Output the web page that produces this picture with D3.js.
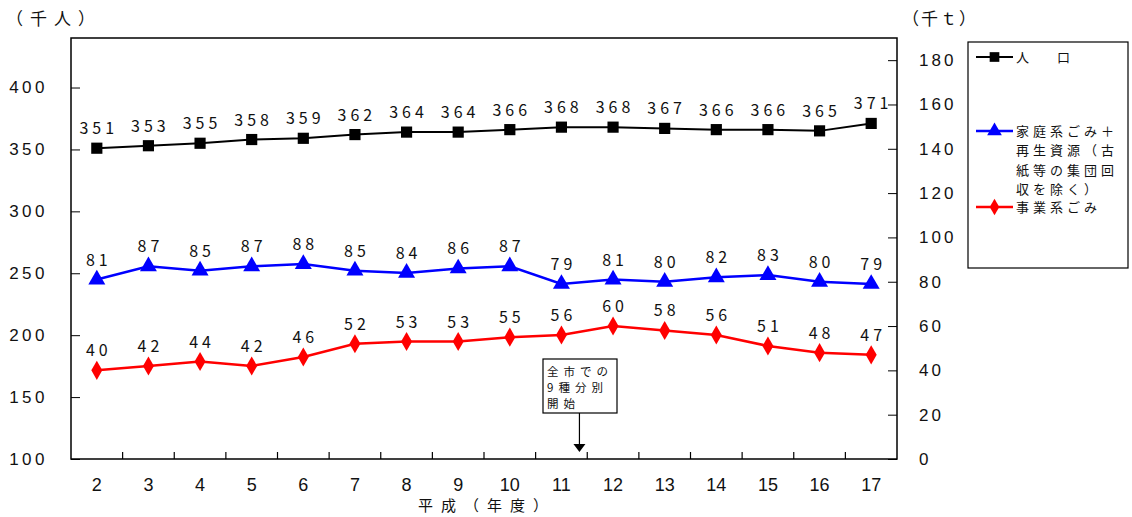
<!DOCTYPE html>
<html><head><meta charset="utf-8">
<script src="https://cdn.jsdelivr.net/npm/d3@7"></script>
<style>
body{margin:0;background:#fff;}
svg text{font-family:"Noto Sans CJK JP","Liberation Sans",sans-serif;fill:#111;}
</style></head>
<body><svg id="c" width="1132" height="517"></svg>
<script>
const years = ["2","3","4","5","6","7","8","9","10","11","12","13","14","15","16","17"];
const population = [351,353,355,358,359,362,364,364,366,368,368,367,366,366,365,371];
const household = [81,87,85,87,88,85,84,86,87,79,81,80,82,83,80,79];
const business = [40,42,44,42,46,52,53,53,55,56,60,58,56,51,48,47];
const leftTicks = [100,150,200,250,300,350,400];
const rightTicks = [0,20,40,60,80,100,120,140,160,180];
const legendLabels = [["人"],["家庭系ごみ＋","再生資源（古","紙等の集団回","収を除く）"],["事業系ごみ"]];
const noteLines = ["全市での","9種分別","開始"];

const svg = d3.select("#c");
const L=71, R=897, T=38, B=459;
const x = d3.scaleBand().domain(years).range([L,R]);
const yL = d3.scaleLinear().domain([100,440]).range([B,T]);
const yR = d3.scaleLinear().domain([0,190]).range([B,T]);
const cx = d => x(d)+x.bandwidth()/2;

// frame
svg.append("rect").attr("x",L).attr("y",T).attr("width",R-L).attr("height",B-T)
  .attr("fill","none").attr("stroke","#000").attr("stroke-width",1.5);

// left axis
const gl = svg.append("g").attr("transform",`translate(${L},0)`)
  .call(d3.axisLeft(yL).tickValues(leftTicks).tickSizeInner(-9).tickSizeOuter(0).tickPadding(23));
gl.select(".domain").remove();
gl.selectAll("line").attr("stroke","#000");
gl.selectAll("text").attr("font-size",17).attr("letter-spacing","3.5px").attr("fill","#111")
  .style("font-family","'Liberation Sans',sans-serif");

// right axis
const gr = svg.append("g").attr("transform",`translate(${R},0)`)
  .call(d3.axisRight(yR).tickValues(rightTicks).tickSizeInner(-9).tickSizeOuter(0).tickPadding(22));
gr.select(".domain").remove();
gr.selectAll("line").attr("stroke","#000");
gr.selectAll("text").attr("font-size",17).attr("letter-spacing","3px").attr("fill","#111")
  .style("font-family","'Liberation Sans',sans-serif");

// x axis ticks at band boundaries
svg.append("g").selectAll("line").data(years.slice(1)).join("line")
  .attr("x1",d=>x(d)).attr("x2",d=>x(d)).attr("y1",B).attr("y2",B-7).attr("stroke","#000").attr("stroke-width",1.2);
svg.append("g").selectAll("text").data(years).join("text")
  .attr("x",d=>cx(d)).attr("y",491).attr("text-anchor","middle").attr("font-size",18)
  .style("font-family","'Liberation Sans Narrow','Liberation Sans',sans-serif").text(d=>d);
svg.append("text").attr("x",487).attr("y",511).attr("text-anchor","middle").attr("font-size",15)
  .attr("letter-spacing","8px").text("平成（年度）");

svg.append("text").attr("x",6).attr("y",25).attr("font-size",17).attr("letter-spacing","7px").text("（千人）");
svg.append("text").attr("x",902).attr("y",25).attr("font-size",17).attr("letter-spacing","2px").text("（千ｔ）");

// series
const series = [
  {vals:population, y:yL, color:"#000", sym:d3.symbolSquare, size:125, w:2},
  {vals:household, y:yR, color:"#0000ff", sym:d3.symbolTriangle, size:125, w:2.5},
  {vals:business, y:yR, color:"#ff0000", sym:d3.symbolDiamond, size:105, w:2.5}
];
series.forEach(s=>{
  const line = d3.line().x((v,i)=>cx(years[i])).y(v=>s.y(v));
  svg.append("path").datum(s.vals).attr("d",line).attr("fill","none").attr("stroke",s.color).attr("stroke-width",s.w);
  svg.append("g").selectAll("path").data(s.vals).join("path")
    .attr("transform",(v,i)=>`translate(${cx(years[i])},${s.y(v)})`)
    .attr("d",d3.symbol(s.sym,s.size)()).attr("fill",s.color);
  svg.append("g").selectAll("text").data(s.vals).join("text")
    .attr("x",(v,i)=>cx(years[i])+2).attr("y",v=>s.y(v)-14)
    .attr("text-anchor","middle").attr("font-size",16).attr("letter-spacing","4px").text(v=>v);
});

// legend
svg.append("rect").attr("x",968).attr("y",42).attr("width",160).attr("height",226)
  .attr("fill","#fff").attr("stroke","#000").attr("stroke-width",1.2);
const legY = [57,131,207];
series.forEach((s,k)=>{
  const y0 = legY[k];
  svg.append("line").attr("x1",976).attr("x2",1013).attr("y1",y0).attr("y2",y0).attr("stroke",s.color).attr("stroke-width",s.w);
  svg.append("path").attr("transform",`translate(994.5,${y0})`).attr("d",d3.symbol(s.sym,s.size*0.75)()).attr("fill",s.color);
  const t = svg.append("text").attr("x",1016).attr("y",y0+5).attr("font-size",13).attr("letter-spacing","4px");
  legendLabels[k].forEach((line,j)=>{
    t.append("tspan").attr("x",1016).attr("dy",j===0?0:19.3).text(line);
  });
  if(k===0) t.append("tspan").attr("x",1057).text("口");
});

// annotation
const ax = cx("11")+18;
svg.append("rect").attr("x",543).attr("y",359).attr("width",74).attr("height",54)
  .attr("fill","#fff").attr("stroke","#000").attr("stroke-width",1.2);
const nt = svg.append("text").attr("x",547).attr("y",376).attr("font-size",11.5).attr("letter-spacing","5px");
noteLines.forEach((t,j)=>{
  nt.append("tspan").attr("x",547).attr("dy",j===0?0:16).text(t);
});
svg.append("line").attr("x1",ax).attr("x2",ax).attr("y1",413).attr("y2",446).attr("stroke","#000").attr("stroke-width",1.2);
svg.append("path").attr("d",`M${ax-6},${444}L${ax+6},${444}L${ax},${452}Z`).attr("fill","#000");
</script></body></html>
